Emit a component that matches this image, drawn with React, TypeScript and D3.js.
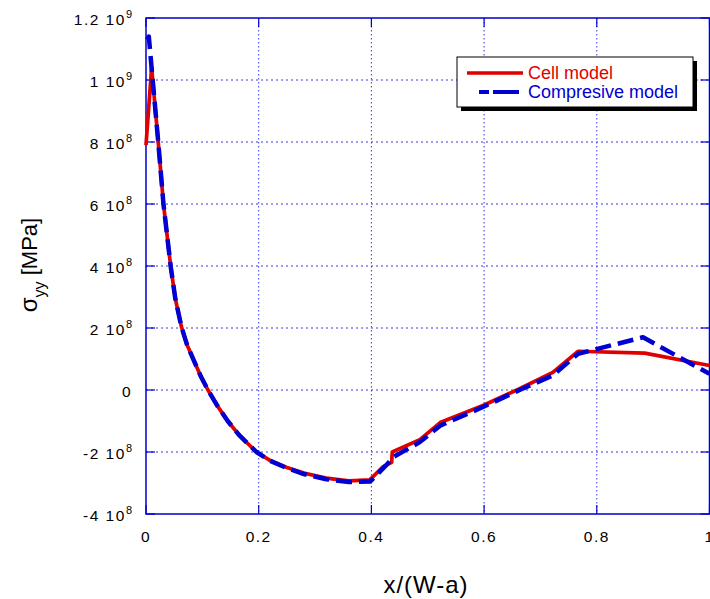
import React from "react";
import * as d3 from "d3";

// Data (y in units of 1e8 MPa)
const cellX = [0, 0.010, 0.022, 0.031, 0.044, 0.052, 0.063, 0.073, 0.085, 0.097, 0.11, 0.127, 0.145, 0.165, 0.196, 0.22, 0.25, 0.28, 0.32, 0.36, 0.397, 0.421, 0.436, 0.437, 0.486, 0.522, 0.598, 0.663, 0.722, 0.767, 0.885, 1.0];
const cellY = [7.9, 10.4, 7.94, 6.0, 3.96, 2.95, 2.03, 1.45, 0.95, 0.45, 0.0, -0.52, -1.0, -1.45, -2.0, -2.27, -2.5, -2.68, -2.84, -2.93, -2.9, -2.47, -2.33, -2.0, -1.6, -1.05, -0.5, 0.04, 0.57, 1.25, 1.19, 0.79];
const compX = [0.002, 0.005, 0.022, 0.031, 0.044, 0.052, 0.063, 0.073, 0.085, 0.097, 0.11, 0.127, 0.145, 0.165, 0.196, 0.22, 0.25, 0.28, 0.32, 0.36, 0.398, 0.425, 0.44, 0.486, 0.522, 0.598, 0.663, 0.722, 0.767, 0.882, 1.0];
const compY = [11.3, 11.4, 7.94, 6.0, 3.96, 2.95, 2.03, 1.45, 0.95, 0.45, 0.0, -0.52, -1.0, -1.45, -2.0, -2.28, -2.52, -2.71, -2.88, -2.97, -2.95, -2.45, -2.15, -1.68, -1.15, -0.55, 0.0, 0.47, 1.17, 1.70, 0.52];

const xTicks = [0, 0.2, 0.4, 0.6, 0.8, 1];
const xTickLabels = ["0", "0.2", "0.4", "0.6", "0.8", "1"];
const yTicks = [-4, -2, 0, 2, 4, 6, 8, 10, 12];
const yTickBase = ["-4 10", "-2 10", "0", "2 10", "4 10", "6 10", "8 10", "1 10", "1.2 10"];
const yTickExp = ["8", "8", "", "8", "8", "8", "8", "9", "9"];

const seriesNames = ["Cell model", "Compresive model"];

const W = 710, H = 599;
const L = 146, R = 709.5, T = 18, B = 514;

export default function App() {
  const x = d3.scaleLinear().domain([0, 1]).range([L, R]);
  const y = d3.scaleLinear().domain([-4, 12]).range([B, T]);
  const line = d3.line<[number, number]>().x(d => x(d[0])).y(d => y(d[1]));
  const cell = line(cellX.map((v, i) => [v, cellY[i]]) as [number, number][]) || "";
  const comp = line(compX.map((v, i) => [v, compY[i]]) as [number, number][]) || "";
  const red = "#e00000";
  const blue = "#0000d2";
  const axisBlue = "#0000cc";
  const gridBlue = "#3a3ae0";
  const font = "'Liberation Sans', Arial, sans-serif";

  return (
    <svg width={W} height={H} style={{ position: "absolute", left: 0, top: 0, background: "#fff" }} fontFamily={font}>
      <rect x={0} y={0} width={W} height={H} fill="#fff" />
      {/* grid */}
      {xTicks.slice(1, -1).map((t, i) => (
        <line key={"gx" + i} x1={x(t)} x2={x(t)} y1={T} y2={B} stroke={gridBlue} strokeWidth={1} strokeDasharray="1.5,2.5" />
      ))}
      {yTicks.slice(1, -1).map((t, i) => (
        <line key={"gy" + i} x1={L} x2={R} y1={y(t)} y2={y(t)} stroke={gridBlue} strokeWidth={1} strokeDasharray="2,3" />
      ))}
      {/* ticks */}
      {xTicks.map((t, i) => (
        <g key={"tx" + i}>
          <line x1={x(t)} x2={x(t)} y1={B} y2={B - 9} stroke={axisBlue} strokeWidth={1.2} />
          <line x1={x(t)} x2={x(t)} y1={T} y2={T + 9} stroke={axisBlue} strokeWidth={1.2} />
        </g>
      ))}
      {yTicks.map((t, i) => (
        <g key={"ty" + i}>
          <line x1={L} x2={L + 9} y1={y(t)} y2={y(t)} stroke={axisBlue} strokeWidth={1.2} />
          <line x1={R} x2={R - 9} y1={y(t)} y2={y(t)} stroke={axisBlue} strokeWidth={1.2} />
        </g>
      ))}
      {/* frame */}
      <rect x={L} y={T} width={R - L} height={B - T} fill="none" stroke={axisBlue} strokeWidth={1.5} />
      {/* tick labels */}
      {xTicks.map((t, i) => (
        <text key={"lx" + i} x={x(t)} y={542} textAnchor="middle" fontSize={15.5} letterSpacing={1.5} fill="#000">{xTickLabels[i]}</text>
      ))}
      {yTicks.map((t, i) => (
        <text key={"ly" + i} x={132} y={y(t) + 6.5} textAnchor="end" fontSize={15.5} letterSpacing={1.5} fill="#000">
          <tspan>{yTickBase[i]}</tspan>
          {yTickExp[i] ? <tspan dy={-7} fontSize={11} letterSpacing={0}>{yTickExp[i]}</tspan> : null}
        </text>
      ))}
      {/* lines */}
      <path d={cell} fill="none" stroke={red} strokeWidth={3.7} strokeLinejoin="round" />
      <path d={comp} fill="none" stroke={blue} strokeWidth={4.5} strokeDasharray="16,7" strokeLinejoin="round" />
      {/* legend */}
      <rect x={461} y={61} width={236} height={50} fill="#000" />
      <rect x={457} y={57} width={236} height={50} fill="#fff" stroke="#000" strokeWidth={1} />
      <line x1={467} x2={523} y1={73} y2={73} stroke={red} strokeWidth={3.5} />
      <text x={528} y={79} fontSize={18} fill={red}>{seriesNames[0]}</text>
      <line x1={479} x2={520} y1={92} y2={92} stroke={blue} strokeWidth={4} strokeDasharray="10,4,26" />
      <text x={528} y={98} fontSize={18} fill={blue}>{seriesNames[1]}</text>
      {/* axis labels */}
      <text x={426} y={593} textAnchor="middle" fontSize={24} letterSpacing={1} fill="#000">x/(W-a)</text>
      <text transform="translate(37,265) rotate(-90)" textAnchor="middle" fontSize={22} fill="#000">
        <tspan fontSize={24}>σ</tspan>
        <tspan dy={8} fontSize={16}>yy</tspan>
        <tspan dy={-8}> [MPa]</tspan>
      </text>
    </svg>
  );
}
